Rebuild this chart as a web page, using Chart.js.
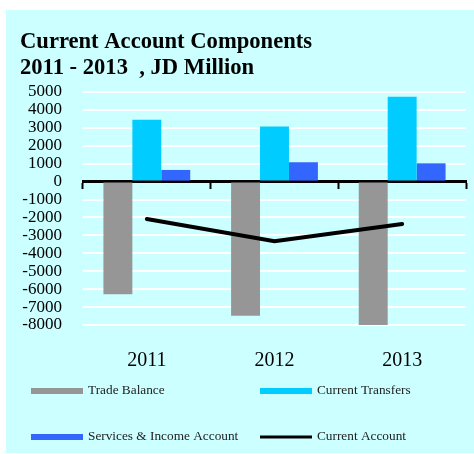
<!DOCTYPE html>
<html>
<head>
<meta charset="utf-8">
<script src="https://cdn.jsdelivr.net/npm/chart.js@4"></script>
<style>
  html, body { margin: 0; padding: 0; background: #fff; }
  #wrap { width: 474px; height: 454px; }
</style>
</head>
<body>
<div id="wrap"><canvas id="ca-chart" width="474" height="454"></canvas></div>
<script>
const years = ['2011', '2012', '2013'];
const tradeBalance = [-6280, -7480, -8000];
const currentTransfers = [3450, 3070, 4730];
const servicesIncome = [650, 1080, 1020];
const currentAccount = [-2090, -3330, -2370];

const titleLines = ['Current Account Components', '2011 - 2013  , JD Million'];
const yMin = -8000;
const yMax = 5000;
const yStep = 1000;

const COLORS = {
    panel: '#ccffff',
    trade: '#969696',
    transfers: '#00ccff',
    services: '#3366ff',
    account: '#000000',
};

Chart.defaults.font.family = "'Liberation Serif', 'Times New Roman', serif";
Chart.defaults.color = '#000';

// light cyan panel behind everything
const panelPlugin = {
    id: 'panel',
    beforeDraw(chart) {
        const ctx = chart.ctx;
        ctx.save();
        ctx.fillStyle = COLORS.panel;
        ctx.fillRect(6, 10, 468, 443);
        ctx.restore();
    }
};

// two-column legend under the chart
const gridLegend = {
    id: 'gridLegend',
    afterDraw(chart) {
        const ctx = chart.ctx;
        const slots = [[31, 391], [260, 391], [31, 437], [260, 437]];
        ctx.save();
        ctx.font = "13.3px 'Liberation Serif', 'Times New Roman', serif";
        ctx.textBaseline = 'middle';
        chart.data.datasets.forEach((ds, i) => {
            const [x, y] = slots[i];
            if (ds.type === 'line') {
                ctx.strokeStyle = ds.borderColor;
                ctx.lineWidth = 3;
                ctx.beginPath();
                ctx.moveTo(x, y);
                ctx.lineTo(x + 52, y);
                ctx.stroke();
            } else {
                ctx.fillStyle = ds.backgroundColor;
                ctx.fillRect(x, y - 3, 52, 6);
            }
            ctx.fillStyle = '#222';
            ctx.fillText(ds.label, x + 57, y);
        });
        ctx.restore();
    }
};

const ctx = document.getElementById('ca-chart').getContext('2d');

new Chart(ctx, {
    type: 'bar',
    data: {
        labels: years,
        datasets: [
            { label: 'Trade Balance', data: tradeBalance, backgroundColor: COLORS.trade, order: 1 },
            { label: 'Current Transfers', data: currentTransfers, backgroundColor: COLORS.transfers, order: 1 },
            { label: 'Services & Income Account', data: servicesIncome, backgroundColor: COLORS.services, order: 1 },
            {
                type: 'line',
                label: 'Current Account',
                data: currentAccount,
                borderColor: COLORS.account,
                backgroundColor: COLORS.account,
                borderWidth: 4,
                borderCapStyle: 'round',
                pointRadius: 0,
                tension: 0,
                order: 0
            }
        ]
    },
    options: {
        responsive: false,
        animation: false,
        events: [],
        datasets: {
            bar: { categoryPercentage: 0.68, barPercentage: 1.0 }
        },
        layout: {
            padding: { left: 20, right: 8, top: 10, bottom: 57 }
        },
        plugins: {
            legend: { display: false },
            tooltip: { enabled: false },
            title: {
                display: true,
                text: titleLines,
                align: 'start',
                color: '#000',
                font: { size: 22.6, weight: 'bold', lineHeight: 1.15 },
                padding: { top: 19, bottom: 11 }
            }
        },
        scales: {
            x: {
                position: { y: 0 },
                offset: true,
                ticks: { display: false },
                grid: {
                    offset: true,
                    drawOnChartArea: false,
                    drawTicks: true,
                    tickLength: 6,
                    tickColor: '#000',
                    tickWidth: 2
                },
                border: { display: true, color: '#000', width: 3 }
            },
            x2: {
                type: 'category',
                position: 'bottom',
                offset: true,
                grid: { display: false, drawTicks: false },
                border: { display: false },
                ticks: { font: { size: 20 }, padding: 24 }
            },
            y: {
                min: yMin,
                max: yMax,
                ticks: {
                    stepSize: yStep,
                    autoSkip: false,
                    padding: 21,
                    font: { size: 17 },
                    callback: (v) => String(v)
                },
                grid: { color: '#ffffff', lineWidth: 2, drawTicks: false },
                border: { display: false },
                afterFit(scale) { scale.width = 63; }
            }
        }
    },
    plugins: [panelPlugin, gridLegend]
});
</script>
</body>
</html>
